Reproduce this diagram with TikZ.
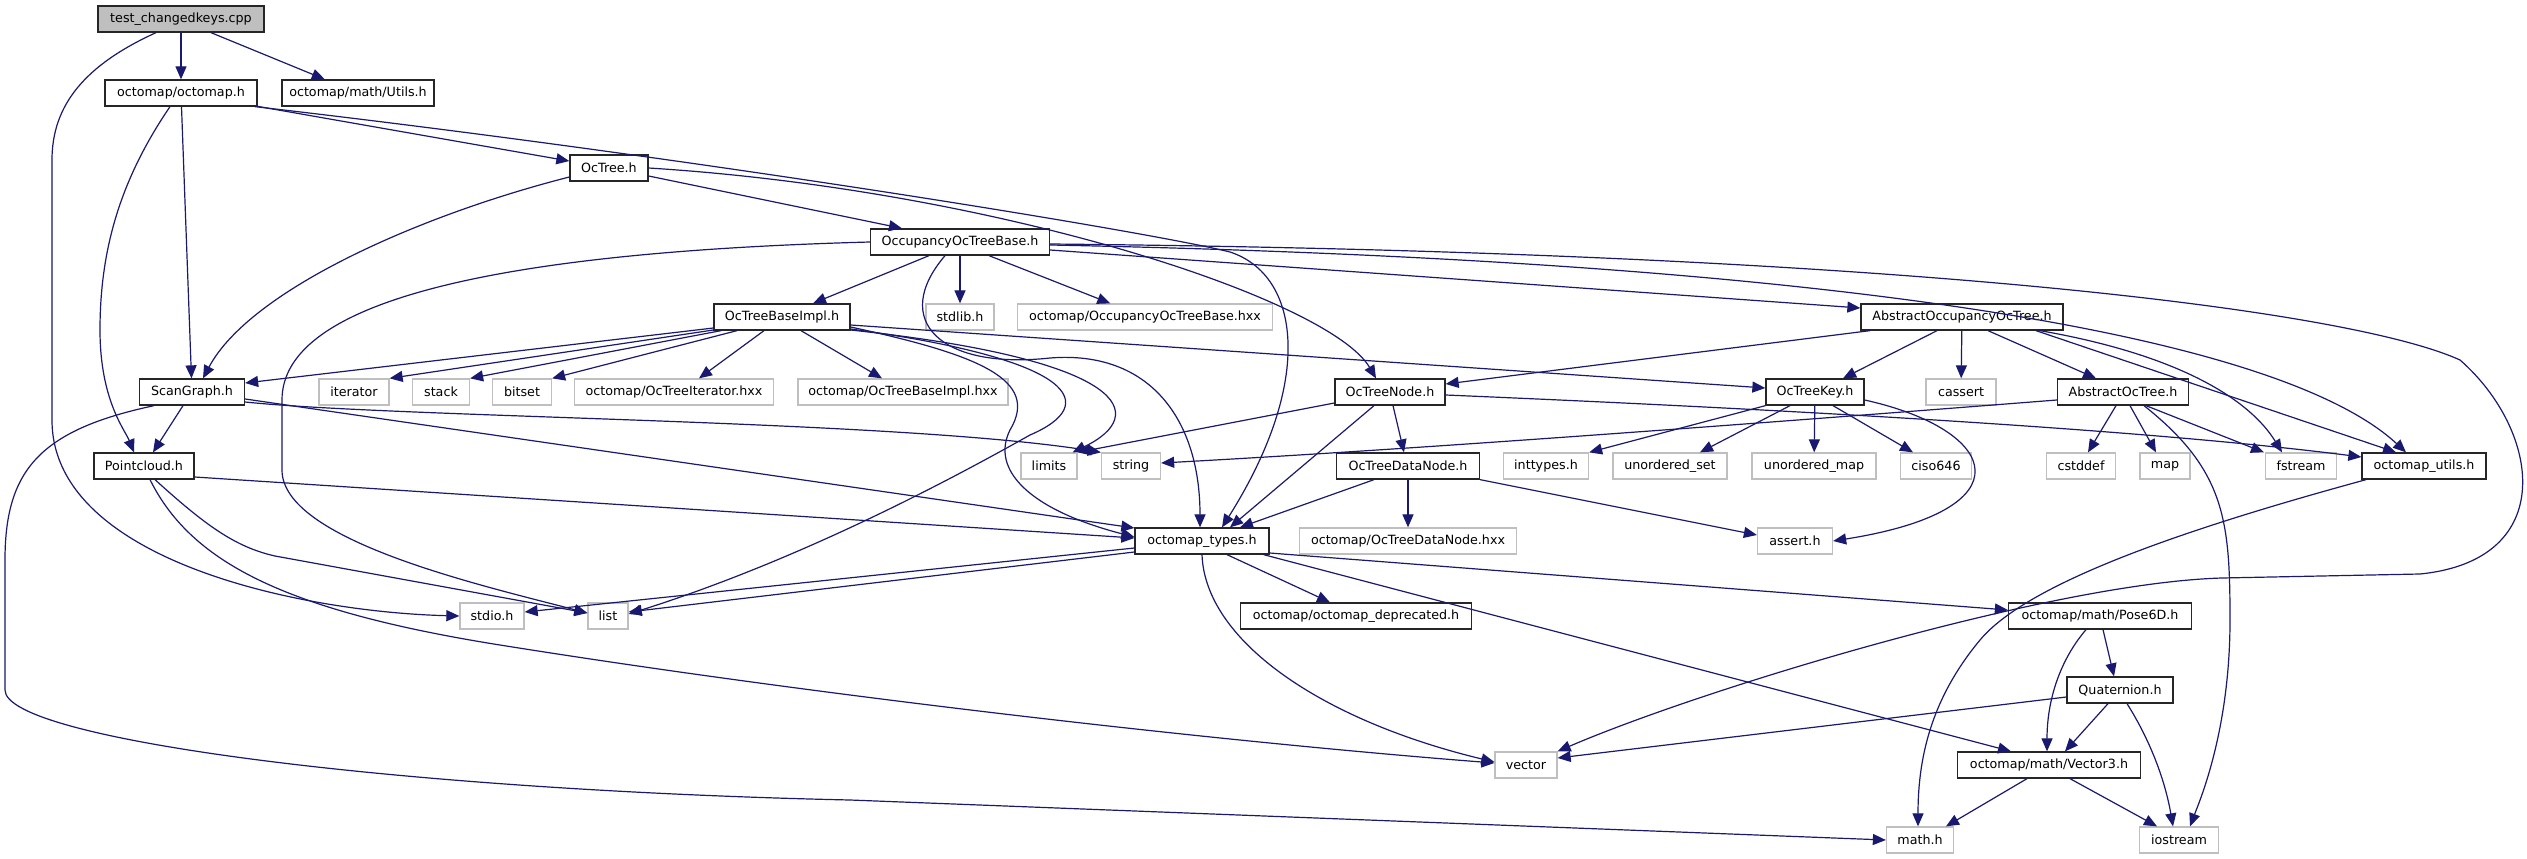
\documentclass[tikz,border=0pt]{standalone}
\usepackage{fontspec}
\setmainfont{DejaVu Sans}
\usetikzlibrary{arrows.meta}
\definecolor{edgeblue}{RGB}{25,25,112}
\tikzset{
  filenode/.style={draw=black!85, fill=white, line width=1.3pt, minimum height=26pt, inner sep=0pt, font=\fontsize{12.7}{15}\selectfont},
  sysnode/.style={filenode, draw=black!25},
  rootnode/.style={filenode, fill=black!25},
  dep/.style={draw=edgeblue, line width=1.2pt, -{Triangle[length=13pt,width=11pt]}},
}
\begin{document}
\begin{tikzpicture}[x=1pt, y=-1pt]
  \path[fill=white, use as bounding box] (0,0) rectangle (2527,859);
  \node[rootnode, minimum width=166] (test) at (181,19) {test\_changedkeys.cpp};
  \node[filenode, minimum width=152] (omap) at (181,93) {octomap/octomap.h};
  \node[filenode, minimum width=152] (utils) at (358,93) {octomap/math/Utils.h};
  \node[filenode, minimum width=78] (octree) at (609,168) {OcTree.h};
  \node[filenode, minimum width=179] (occbase) at (960,242) {OccupancyOcTreeBase.h};
  \node[filenode, minimum width=136] (baseimpl) at (782,317) {OcTreeBaseImpl.h};
  \node[sysnode, minimum width=68] (stdlib) at (960,317) {stdlib.h};
  \node[sysnode, minimum width=255] (occhxx) at (1145,317) {octomap/OccupancyOcTreeBase.hxx};
  \node[filenode, minimum width=202] (absocc) at (1962,317) {AbstractOccupancyOcTree.h};
  \node[filenode, minimum width=105] (scangraph) at (192,392) {ScanGraph.h};
  \node[sysnode, minimum width=70] (iterator) at (354,392) {iterator};
  \node[sysnode, minimum width=57] (stack) at (441,392) {stack};
  \node[sysnode, minimum width=59] (bitset) at (522,392) {bitset};
  \node[sysnode, minimum width=199] (itehxx) at (674,392) {octomap/OcTreeIterator.hxx};
  \node[sysnode, minimum width=210] (implhxx) at (903,392) {octomap/OcTreeBaseImpl.hxx};
  \node[filenode, minimum width=110] (treenode) at (1390,392) {OcTreeNode.h};
  \node[filenode, minimum width=98] (treekey) at (1815,392) {OcTreeKey.h};
  \node[sysnode, minimum width=70] (cassert) at (1961,392) {cassert};
  \node[filenode, minimum width=131] (absoct) at (2123,392) {AbstractOcTree.h};
  \node[filenode, minimum width=100] (pcloud) at (144,466) {Pointcloud.h};
  \node[sysnode, minimum width=56] (limits) at (1049,466) {limits};
  \node[sysnode, minimum width=59] (string) at (1131,466) {string};
  \node[filenode, minimum width=143] (datanode) at (1408,466) {OcTreeDataNode.h};
  \node[sysnode, minimum width=85] (inttypes) at (1546,466) {inttypes.h};
  \node[sysnode, minimum width=114] (uset) at (1670,466) {unordered\_set};
  \node[sysnode, minimum width=124] (umap) at (1814,466) {unordered\_map};
  \node[sysnode, minimum width=71] (ciso) at (1936,466) {ciso646};
  \node[sysnode, minimum width=69] (cstddef) at (2081,466) {cstddef};
  \node[sysnode, minimum width=50] (map) at (2165,466) {map};
  \node[sysnode, minimum width=71] (fstream) at (2301,466) {fstream};
  \node[filenode, minimum width=124] (utilsh) at (2424,466) {octomap\_utils.h};
  \node[filenode, minimum width=134] (types) at (1202,541) {octomap\_types.h};
  \node[sysnode, minimum width=217] (datahxx) at (1408,541) {octomap/OcTreeDataNode.hxx};
  \node[sysnode, minimum width=75] (assert) at (1795,541) {assert.h};
  \node[sysnode, minimum width=64] (stdio) at (492,616) {stdio.h};
  \node[sysnode, minimum width=40] (list) at (608,616) {list};
  \node[filenode, minimum width=231] (depr) at (1356,616) {octomap/octomap\_deprecated.h};
  \node[filenode, minimum width=183] (pose) at (2100,616) {octomap/math/Pose6D.h};
  \node[filenode, minimum width=106] (quat) at (2120,690) {Quaternion.h};
  \node[sysnode, minimum width=62] (vector) at (1526,765) {vector};
  \node[filenode, minimum width=183] (vec3) at (2049,765) {octomap/math/Vector3.h};
  \node[sysnode, minimum width=67] (math) at (1920,840) {math.h};
  \node[sysnode, minimum width=79] (iostream) at (2179,840) {iostream};

  \draw[dep] (test) -- (omap);
  \draw[dep] ([xshift=30]test.south) -- (utils);
  \draw[dep] ([xshift=-25]test.south) .. controls (85,65) and (52,105) .. (52,160) -- (52,420) .. controls (52,560) and (300,612) .. (stdio.west);

  \draw[dep] (omap) -- (scangraph);
  \draw[dep] ([xshift=-11]omap.south) .. controls (120,180) and (100,250) .. (100,330) .. controls (100,400) and (125,430) .. ([xshift=-10]pcloud.north);
  \draw[dep] (omap) -- (octree);
  \draw[dep] ([xshift=74]omap.south) .. controls (700,158) and (1150,232) .. (1230,252) .. controls (1300,275) and (1315,380) .. ([xshift=20]types.north);

  \draw[dep] (octree.east) .. controls (1000,190) and (1330,300) .. ([xshift=-14]treenode.north);
  \draw[dep] ([yshift=-9]octree.west) .. controls (420,215) and (250,290) .. ([xshift=11]scangraph.north);
  \draw[dep] ([yshift=-8]octree.east) -- ([xshift=-58]occbase.north);

  \draw[dep] ([xshift=-31]occbase.south) -- ([xshift=31]baseimpl.north);
  \draw[dep] (occbase.west) .. controls (500,252) and (282,300) .. (282,400) -- (282,470) .. controls (282,540) and (480,585) .. ([yshift=3]list.west);
  \draw[dep] (occbase) -- (stdlib);
  \draw[dep] ([xshift=29]occbase.south) -- (occhxx);
  \draw[dep] ([yshift=-8]occbase.east) -- ([yshift=9]absocc.west);
  \draw[dep] ([yshift=-3]occbase.east) .. controls (1900,262) and (2290,345) .. ([xshift=-18]utilsh.north);
  \draw[dep] ([yshift=-2]occbase.east) .. controls (1900,252) and (2350,310) .. (2460,360) .. controls (2540,430) and (2560,560) .. (2420,574) -- (2222,578) .. controls (2050,583) and (1700,690) .. (vector.north east);
  \draw[dep] ([xshift=-15]occbase.south) .. controls (890,320) and (940,370) .. (1050,358) .. controls (1150,350) and (1200,420) .. ([xshift=-2]types.north);

  \draw[dep] ([yshift=-11]baseimpl.west) -- ([yshift=9]scangraph.east);
  \draw[dep] ([yshift=-13]baseimpl.west) -- (iterator.north east);
  \draw[dep] ([xshift=-61]baseimpl.south) -- (stack.north east);
  \draw[dep] ([xshift=-45]baseimpl.south) -- (bitset.north east);
  \draw[dep] ([xshift=-18]baseimpl.south) -- ([xshift=25]itehxx.north);
  \draw[dep] ([xshift=19]baseimpl.south) -- ([xshift=-21]implhxx.north);
  \draw[dep] ([yshift=-8]baseimpl.east) -- ([yshift=4]treekey.west);
  \draw[dep] ([yshift=-10]baseimpl.east) .. controls (980,355) and (1040,380) .. (1010,430) .. controls (990,470) and (1030,510) .. ([yshift=4]types.west);
  \draw[dep] ([yshift=-12]baseimpl.east) .. controls (1080,360) and (1100,405) .. (1030,435) .. controls (950,480) and (800,560) .. ([yshift=2]list.east);
  \draw[dep] ([yshift=-13]baseimpl.east) .. controls (1130,360) and (1150,415) .. ([xshift=-5]limits.north east);

  \draw[dep] ([xshift=-9]scangraph.south) -- ([xshift=9]pcloud.north);
  \draw[dep] ([yshift=-7]scangraph.east) -- ([yshift=13]types.west);
  \draw[dep] ([yshift=-10]scangraph.east) .. controls (400,418) and (900,420) .. (string.north west);
  \draw[dep] ([xshift=-38]scangraph.south) .. controls (40,430) and (5,470) .. (5,560) -- (5,690) .. controls (5,740) and (400,790) .. (850,800) -- (math.west);

  \draw[dep] ([yshift=-11]pcloud.east) -- ([yshift=3]types.west);
  \draw[dep] ([xshift=11]pcloud.south) .. controls (205,525) and (235,547) .. (275,556) -- ([yshift=3]list.west);
  \draw[dep] ([xshift=6]pcloud.south) .. controls (190,560) and (280,610) .. (500,645) .. controls (800,693) and (1200,740) .. ([yshift=2]vector.west);

  \draw[dep] ([yshift=-11]treenode.west) -- (limits.north east);
  \draw[dep] ([xshift=-16]treenode.south) -- ([xshift=28]types.north);
  \draw[dep] ([xshift=3]treenode.south) -- ([xshift=-4]datanode.north);
  \draw[dep] ([yshift=-3]treenode.east) .. controls (1800,410) and (2150,430) .. ([yshift=9]utilsh.west);

  \draw[dep] (datanode) -- (datahxx);
  \draw[dep] ([xshift=-34]datanode.south) -- ([xshift=38]types.north);
  \draw[dep] (datanode.south east) -- ([yshift=6]assert.west);

  \draw[dep] ([xshift=-92]absocc.south) -- ([yshift=8]treenode.east);
  \draw[dep] ([xshift=-25]absocc.south) -- ([xshift=28]treekey.north);
  \draw[dep] (absocc) -- (cassert);
  \draw[dep] ([xshift=26]absocc.south) -- ([xshift=-27]absoct.north);
  \draw[dep] ([xshift=78]absocc.south) .. controls (2180,355) and (2250,400) .. ([xshift=-19]fstream.north);
  \draw[dep] ([xshift=74]absocc.south) -- ([xshift=-28]utilsh.north);

  \draw[dep] ([xshift=-7]absoct.south) -- ([xshift=7]cstddef.north);
  \draw[dep] ([xshift=7]absoct.south) -- ([xshift=-9]map.north);
  \draw[dep] ([xshift=23]absoct.south) -- ([xshift=-37]fstream.north);
  \draw[dep] ([xshift=21]absoct.south) .. controls (2225,470) and (2230,520) .. (2230,620) .. controls (2230,730) and (2200,800) .. ([xshift=11]iostream.north);
  \draw[dep] ([yshift=-8]absoct.west) .. controls (1700,428) and (1400,450) .. ([yshift=3]string.east);

  \draw[dep] (treekey.south west) -- (inttypes.north east);
  \draw[dep] ([xshift=-25]treekey.south) -- ([xshift=30]uset.north);
  \draw[dep] (treekey) -- (umap);
  \draw[dep] ([xshift=18]treekey.south) -- ([xshift=-23]ciso.north);
  \draw[dep] ([yshift=-8]treekey.east) .. controls (2000,430) and (2030,510) .. (assert.east);

  \draw[dep] ([xshift=25]types.south) -- ([xshift=-26]depr.north);
  \draw[dep] (types.south) .. controls (1205,640) and (1320,720) .. ([yshift=3]vector.west);
  \draw[dep] ([yshift=-12]types.east) -- ([yshift=6]pose.west);
  \draw[dep] ([xshift=-6]types.south east) -- ([xshift=-38]vec3.north);
  \draw[dep] ([yshift=-7]types.west) -- ([yshift=4]stdio.east);
  \draw[dep] ([yshift=-11]types.west) -- ([yshift=4]list.east);

  \draw[dep] ([xshift=3]pose.south) -- ([xshift=-6]quat.north);
  \draw[dep] ([xshift=-14]pose.south) .. controls (2060,660) and (2047,700) .. ([xshift=-2]vec3.north);

  \draw[dep] ([xshift=-12]quat.south) -- ([xshift=16]vec3.north);
  \draw[dep] ([xshift=7]quat.south) .. controls (2150,740) and (2165,780) .. ([xshift=-6]iostream.north);
  \draw[dep] ([yshift=-7]quat.west) -- ([yshift=7]vector.east);

  \draw[dep] ([xshift=-22]vec3.south) -- ([xshift=26]math.north);
  \draw[dep] ([xshift=21]vec3.south) -- ([xshift=-22]iostream.north);

  \draw[dep] ([xshift=-58]utilsh.south) .. controls (2200,525) and (2030,580) .. (1980,640) .. controls (1930,700) and (1918,760) .. ([xshift=-2]math.north);
\end{tikzpicture}
\end{document}
